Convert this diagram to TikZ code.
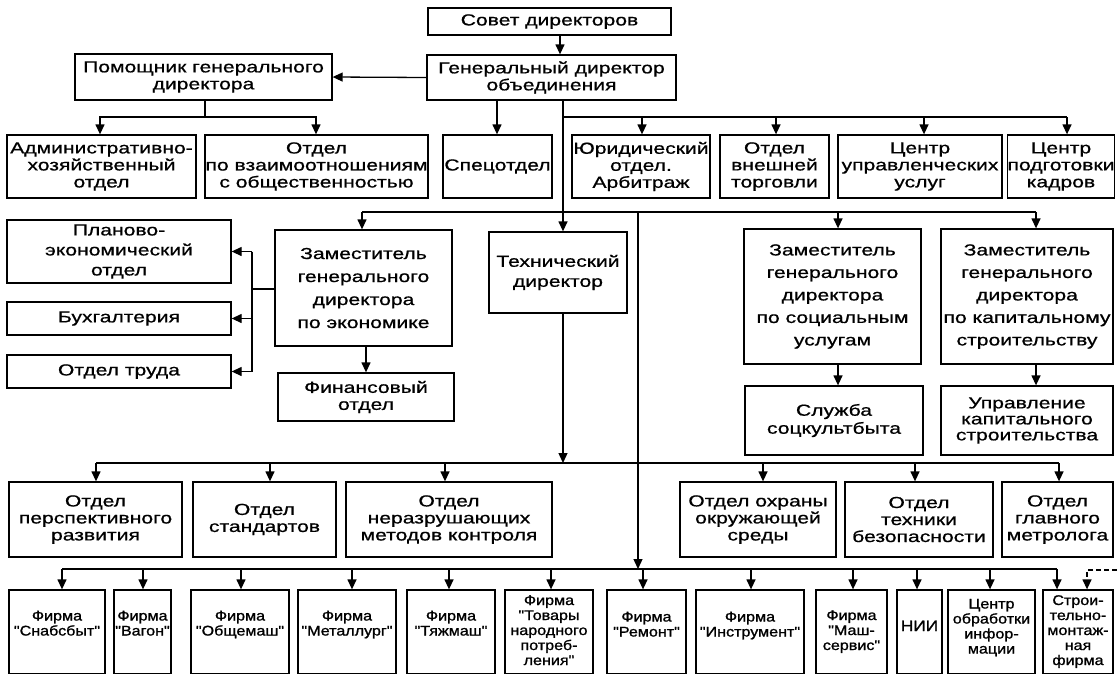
\documentclass[tikz,border=0pt]{standalone}
\usepackage{fontspec}
\setmainfont[FakeStretch=1.32,FakeBold=0.8]{Liberation Sans}
\newfontfamily\firmfont[FakeStretch=1.15,FakeBold=1.2]{Liberation Sans}
\usetikzlibrary{arrows.meta}
\newcommand\obox[7][]{%
  \node[box,#1,minimum width={(#4-#3)*1pt},minimum height={(#6-#5)*1pt}] (#2) at ({(#3+#4)/2},{(#5+#6)/2}) {#7};}
\newcommand\fup[2]{\raisebox{#1}[\height][\depth]{\begin{tabular}{@{}c@{}}#2\end{tabular}}}
\tikzset{
  box/.style={draw, line width=1.3pt, inner sep=0pt, align=center, font=\fontsize{16}{17}\selectfont},
  firm/.style={font=\firmfont\fontsize{14}{15}\selectfont},
  lead/.style={font=\fontsize{16}{#1}\selectfont},
  conn/.style={line width=1.3pt},
  arr/.style={conn, -{Triangle[length=10pt,width=9pt]}},
}
\begin{document}
\begin{tikzpicture}[x=1pt,y=-1pt]
\path[use as bounding box, fill=white] (0,0) rectangle (1117,673);
% top level
\obox{sovet}{428}{671}{8}{35}{Совет директоров}
\obox{gen}{427}{676}{55}{100}{Генеральный директор\\объединения}
\obox{pom}{75}{332}{54}{100}{Помощник генерального\\директора}
% row 1
\obox{adm}{7}{196}{135}{198}{Административно-\\хозяйственный\\отдел}
\obox{vzaim}{205}{428}{135}{198}{Отдел\\по взаимоотношениям\\с общественностью}
\obox{spec}{443}{552}{135}{198}{Спецотдел}
\obox{yur}{572}{710}{135}{198}{Юридический\\отдел.\\Арбитраж}
\obox{vnesh}{720}{829}{135}{198}{Отдел\\внешней\\торговли}
\obox{cupr}{838}{1002}{135}{198}{Центр\\управленческих\\услуг}
\obox{cpodg}{1009}{1113}{135}{198}{Центр\\подготовки\\кадров}
% middle
\obox[lead=20]{plan}{7}{231}{220}{283}{Планово-\\экономический\\отдел}
\obox{buh}{7}{231}{302}{335}{Бухгалтерия}
\obox{trud}{7}{231}{355}{388}{Отдел труда}
\obox[lead=23]{zamek}{275}{452}{230}{346}{Заместитель\\генерального\\директора\\по экономике}
\obox{fin}{278}{454}{373}{421}{Финансовый\\отдел}
\obox[lead=20]{tech}{489}{627}{232}{313}{Технический\\директор}
\obox[lead=22.5]{zamsoc}{744}{921}{229}{364}{Заместитель\\генерального\\директора\\по социальным\\услугам}
\obox[lead=22.5]{zamkap}{941}{1113}{229}{364}{Заместитель\\генерального\\директора\\по капитальному\\строительству}
\obox[lead=18]{sluzh}{745}{923}{386}{455}{Служба\\соцкультбыта}
\obox[lead=16]{upr}{941}{1113}{386}{455}{Управление\\капитального\\строительства}
% row 3
\obox{persp}{9}{182}{482}{557}{Отдел\\перспективного\\развития}
\obox{stand}{193}{336}{482}{557}{Отдел\\стандартов}
\obox{neraz}{346}{552}{482}{557}{Отдел\\неразрушающих\\методов контроля}
\obox{ohr}{680}{836}{482}{557}{Отдел охраны\\окружающей\\среды}
\obox{tehb}{845}{993}{482}{557}{Отдел\\техники\\безопасности}
\obox{metr}{1002}{1113}{482}{557}{Отдел\\главного\\метролога}
% row 4
\obox[firm]{f1}{9}{105}{590}{674}{\fup{7pt}{Фирма\\"Снабсбыт"}}
\obox[firm]{f2}{114}{171}{590}{674}{\fup{7pt}{Фирма\\"Вагон"}}
\obox[firm]{f3}{191}{289}{590}{674}{\fup{7pt}{Фирма\\"Общемаш"}}
\obox[firm]{f4}{298}{396}{590}{674}{\fup{7pt}{Фирма\\"Металлург"}}
\obox[firm]{f5}{407}{495}{590}{674}{\fup{7pt}{Фирма\\"Тяжмаш"}}
\obox[firm]{f6}{505}{593}{590}{674}{\fup{0pt}{Фирма\\"Товары\\народного\\потреб-\\ления"}}
\obox[firm]{f7}{607}{686}{590}{674}{\fup{6pt}{Фирма\\"Ремонт"}}
\obox[firm]{f8}{696}{804}{590}{674}{\fup{6pt}{Фирма\\"Инструмент"}}
\obox[firm]{f9}{816}{887}{590}{674}{\fup{0pt}{Фирма\\"Маш-\\сервис"}}
\obox[firm]{f10}{897}{942}{590}{674}{\fup{4pt}{\fontsize{15}{16}\selectfont НИИ}}
\obox[firm]{f11}{948}{1035}{590}{674}{\fup{4pt}{Центр\\обработки\\инфор-\\мации}}
\obox[firm]{f12}{1043}{1113}{590}{674}{\fup{0pt}{Строи-\\тельно-\\монтаж-\\ная\\фирма}}
% connectors: top
\draw[arr] (560,0 |- sovet.south) -- (560,0 |- gen.north);
\draw[arr] (gen.west) -- (pom.east);
\coordinate (pj) at (205,117);
\draw[conn] (205,0 |- pom.south) -- (pj);
\draw[arr] (pj) -| (100,0 |- adm.north);
\draw[arr] (pj) -| (316,0 |- vzaim.north);
\draw[arr] (497,0 |- gen.south) -- (497,0 |- spec.north);
% main stem
\coordinate (b1) at (563,117);
\coordinate (b2) at (563,212);
\draw[conn] (563,0 |- gen.south) -- (b2);
\draw[conn] (b1) -- (1067,117);
\draw[arr] (642,117) -- (642,0 |- yur.north);
\draw[arr] (776,117) -- (776,0 |- vnesh.north);
\draw[arr] (924,117) -- (924,0 |- cupr.north);
\draw[arr] (1067,117) -- (1067,0 |- cpodg.north);
% bus to deputies
\draw[conn] (362,212) -- (1036,212);
\draw[arr] (362,212) -- (362,0 |- zamek.north);
\draw[arr] (b2) -- (563,0 |- tech.north);
\draw[arr] (838,212) -- (838,0 |- zamsoc.north);
\draw[arr] (1036,212) -- (1036,0 |- zamkap.north);
% direct line to firms
\coordinate (fb) at (638,569);
\draw[arr] (638,212) -- (fb);
% economics deputy
\draw[conn] (zamek.west |- 0,289) -- (252,289);
\draw[conn] (252,0 |- plan.east) -- (252,0 |- trud.east);
\draw[arr] (252,0 |- plan.east) -- (plan.east);
\draw[arr] (252,0 |- buh.east) -- (buh.east);
\draw[arr] (252,0 |- trud.east) -- (trud.east);
\draw[arr] (366,0 |- zamek.south) -- (366,0 |- fin.north);
\draw[arr] (838,0 |- zamsoc.south) -- (838,0 |- sluzh.north);
\draw[arr] (1036,0 |- zamkap.south) -- (1036,0 |- upr.north);
% technical director
\coordinate (tb) at (563,463);
\draw[arr] (563,0 |- tech.south) -- (tb);
\draw[conn] (96,463) -- (1059,463);
\draw[arr] (96,463) -- (96,0 |- persp.north);
\draw[arr] (270,463) -- (270,0 |- stand.north);
\draw[arr] (445,463) -- (445,0 |- neraz.north);
\draw[arr] (763,463) -- (763,0 |- ohr.north);
\draw[arr] (915,463) -- (915,0 |- tehb.north);
\draw[arr] (1059,463) -- (1059,0 |- metr.north);
% firms bus
\draw[conn] (62,569) -- (1057,569);
\draw[arr] (62,569) -- (62,0 |- f1.north);
\draw[arr] (143,569) -- (143,0 |- f2.north);
\draw[arr] (241,569) -- (241,0 |- f3.north);
\draw[arr] (352,569) -- (352,0 |- f4.north);
\draw[arr] (449,569) -- (449,0 |- f5.north);
\draw[arr] (551,569) -- (551,0 |- f6.north);
\draw[arr] (643,569) -- (643,0 |- f7.north);
\draw[arr] (751,569) -- (751,0 |- f8.north);
\draw[arr] (853,569) -- (853,0 |- f9.north);
\draw[arr] (917,569) -- (917,0 |- f10.north);
\draw[arr] (990,569) -- (990,0 |- f11.north);
\draw[arr] (1057,569) -- (1057,0 |- f12.north);
\coordinate (dj) at (1117,570);
\draw[arr, dash pattern=on 5pt off 3pt] (dj) -| (1087,0 |- f12.north);
\end{tikzpicture}
\end{document}
